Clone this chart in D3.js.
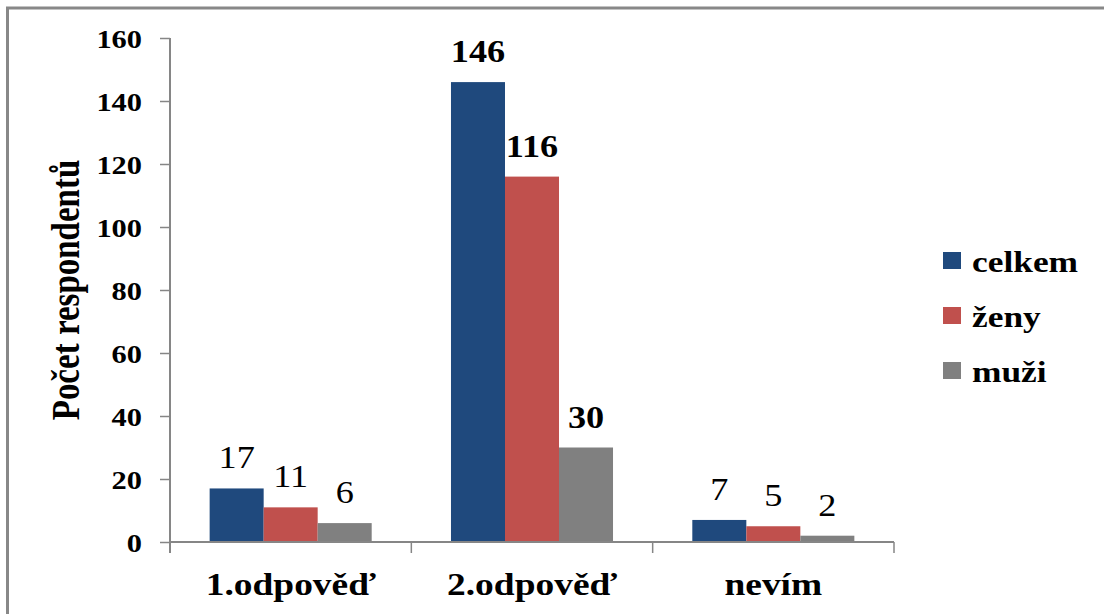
<!DOCTYPE html>
<html>
<head>
<meta charset="utf-8">
<script src="https://cdn.jsdelivr.net/npm/d3@7"></script>
<style>
  html, body { margin: 0; padding: 0; background: #fff; }
  svg { display: block; }
  text { font-family: "Liberation Serif", "Times New Roman", serif; fill: #000; }
</style>
</head>
<body>
<svg id="chart" width="1104" height="614"></svg>
<script>
// Answers and respondent counts
const categories = ["1.odpověď", "2.odpověď", "nevím"];
const seriesNames = ["celkem", "ženy", "muži"];
const celkem = [17, 146, 7];
const zeny = [11, 116, 5];
const muzi = [6, 30, 2];
const yTicks = [0, 20, 40, 60, 80, 100, 120, 140, 160];
const yTitle = "Počet respondentů";

const seriesValues = [celkem, zeny, muzi];
const colors = ["#1F497D", "#C0504D", "#808080"];
// value labels of the middle group are heavier
const labelWeight = { "2.odpověď": "bold" };

const svg = d3.select("#chart");
const sx = 1.17; // horizontal text stretch

// frame
svg.append("rect")
  .attr("x", 7.5).attr("y", 8)
  .attr("width", 1110).attr("height", 620)
  .attr("fill", "none").attr("stroke", "#888").attr("stroke-width", 3);

const plot = { left: 170, right: 894, top: 38, bottom: 542 };

const x = d3.scaleBand().domain(categories).range([plot.left, plot.right]).padding(0);
const xs = d3.scaleBand().domain(seriesNames).range([0, x.bandwidth()])
  .paddingInner(0).paddingOuter(0.734);
const y = d3.scaleLinear().domain([0, 160]).range([plot.bottom, plot.top]);

const axisColor = "#868686";

// bars
categories.forEach((cat, ci) => {
  seriesNames.forEach((s, si) => {
    const v = seriesValues[si][ci];
    svg.append("rect")
      .attr("x", x(cat) + xs(s))
      .attr("y", y(v))
      .attr("width", xs.bandwidth())
      .attr("height", y(0) - y(v))
      .attr("fill", colors[si]);
  });
});

// y axis
const yAxis = svg.append("g")
  .attr("transform", `translate(${plot.left},0)`)
  .call(d3.axisLeft(y).tickValues(yTicks).tickSize(10).tickPadding(0).tickFormat(d3.format("d")));
yAxis.select(".domain").attr("stroke", axisColor).attr("stroke-width", 2)
  .attr("d", `M0,${plot.top}V${plot.bottom + 11}`);
yAxis.selectAll(".tick line").attr("stroke", axisColor).attr("stroke-width", 1.5);
yAxis.selectAll(".tick text").each(function () {
  const t = d3.select(this);
  t.attr("x", null).attr("dy", null).attr("text-anchor", "end")
   .attr("font-size", 26).attr("font-weight", "bold")
   .attr("font-family", "Liberation Serif, serif")
   .attr("fill", "#000")
   .attr("transform", `translate(-28,9) scale(${sx},1)`);
});

// x axis
const xAxis = svg.append("g")
  .attr("transform", `translate(0,${plot.bottom})`);
xAxis.append("line")
  .attr("x1", plot.left).attr("x2", plot.right)
  .attr("stroke", axisColor).attr("stroke-width", 2);
const xBounds = categories.map(c => x(c)).concat([x(categories[categories.length - 1]) + x.bandwidth()]);
xAxis.selectAll("line.tk").data(xBounds.slice(1)).join("line")
  .attr("class", "tk")
  .attr("x1", d => d).attr("x2", d => d)
  .attr("y1", 0).attr("y2", 11)
  .attr("stroke", axisColor).attr("stroke-width", 1.5);
xAxis.selectAll("text.cat").data(categories).join("text")
  .attr("class", "cat")
  .attr("text-anchor", "middle")
  .attr("font-size", 32).attr("font-weight", "bold")
  .attr("transform", d => `translate(${x(d) + x.bandwidth() / 2},53) scale(${sx},1)`)
  .text(d => d);

// value labels
categories.forEach((cat, ci) => {
  seriesNames.forEach((s, si) => {
    const v = seriesValues[si][ci];
    svg.append("text")
      .attr("text-anchor", "middle")
      .attr("font-size", 31)
      .attr("font-weight", labelWeight[cat] || "normal")
      .attr("transform", `translate(${x(cat) + xs(s) + xs.bandwidth() / 2},${y(v) - 20}) scale(${sx},1)`)
      .text(v);
  });
});

// y axis title
svg.append("text")
  .attr("text-anchor", "middle")
  .attr("font-size", 33).attr("font-weight", "bold")
  .attr("transform", `translate(79,290) scale(1.2,1) rotate(-90)`)
  .text(yTitle);

// legend
const legend = svg.append("g").attr("transform", "translate(943,252)");
seriesNames.forEach((s, i) => {
  const g = legend.append("g").attr("transform", `translate(0,${i * 55})`);
  g.append("rect").attr("width", 18).attr("height", 17).attr("fill", colors[i]);
  g.append("text")
    .attr("font-size", 29).attr("font-weight", "bold")
    .attr("transform", `translate(29,20) scale(1.22,1)`)
    .text(s);
});
</script>
</body>
</html>
